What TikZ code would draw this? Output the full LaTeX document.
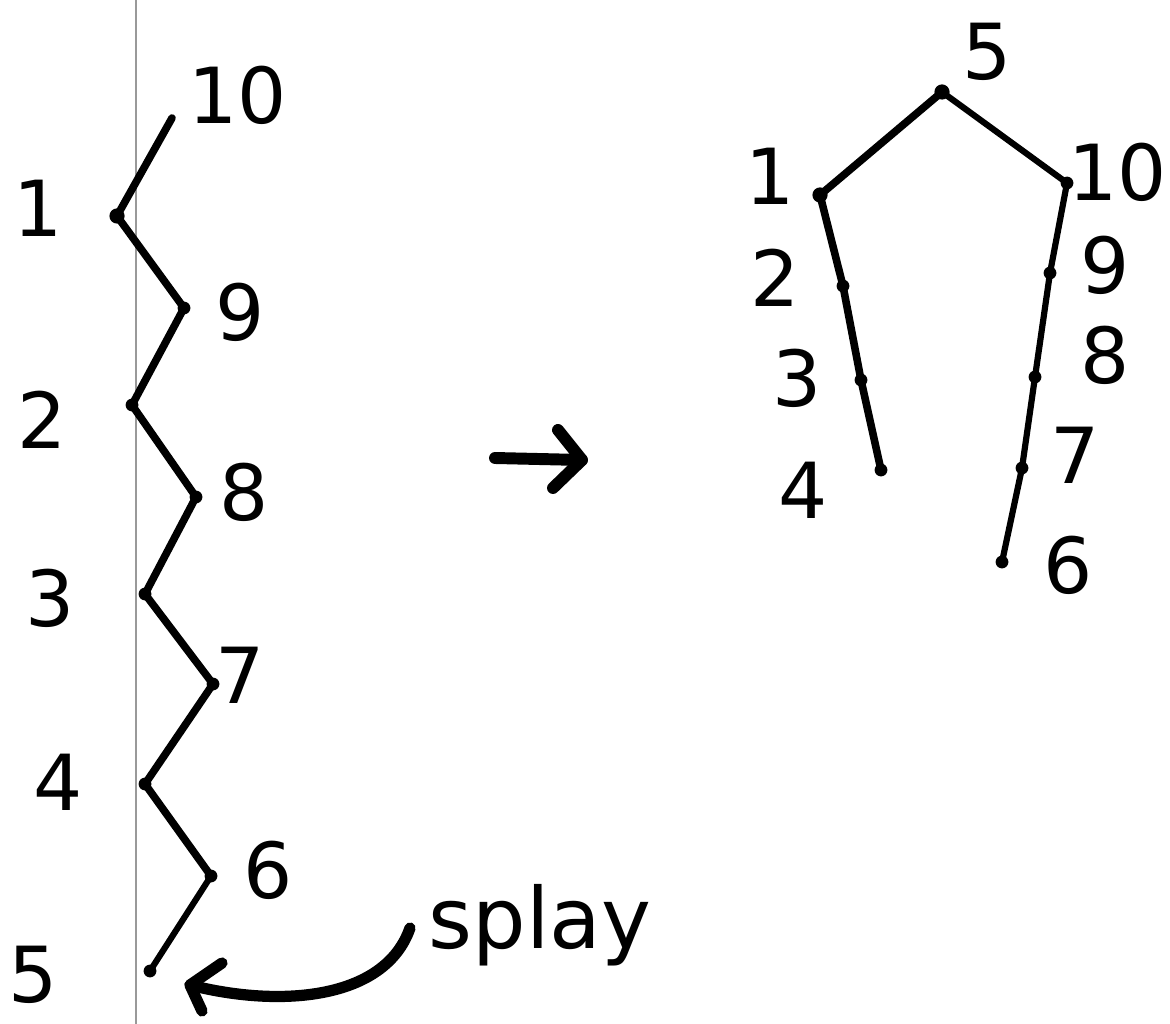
\documentclass[tikz,border=0pt]{standalone}
\usepackage{fontspec}
\setmainfont{DejaVu Sans}
\begin{document}
\begin{tikzpicture}[x=0.025cm,y=-0.025cm,
  line cap=round, line join=round,
  chain/.style={line width=5.4pt},
  thinchain/.style={line width=4.4pt},
  dot/.style={circle,fill=black,inner sep=0pt,minimum size=0.38cm},
  sdot/.style={circle,fill=black,inner sep=0pt,minimum size=0.32cm},
  lab/.style={font=\fontsize{55}{57}\selectfont,inner sep=0pt},
  arr/.style={line width=7pt}]
\useasboundingbox (0,0) rectangle (1170,1024);
\fill[white] (0,0) rectangle (1170,1024);
% margin line
\coordinate (mtop) at (136,0);
\coordinate (mbot) at (136,1024);
\draw[gray!80,line width=0.9pt] (mtop) -- (mbot);

% ---- left zigzag ----
\coordinate (a10) at (172,118);
\node[dot] (a1) at (117,216) {};
\node[sdot] (a9) at (184,308) {};
\node[sdot] (a2) at (132,405) {};
\node[sdot] (a8) at (196,497) {};
\node[sdot] (a3) at (145,594) {};
\node[sdot] (a7) at (213,684) {};
\node[sdot] (a4) at (145,784) {};
\node[sdot] (a6) at (211,876) {};
\node[sdot] (a5) at (150,971) {};
\draw[chain] (a10) -- (a1.center) -- (a9.center) -- (a2.center) -- (a8.center) -- (a3.center)
  -- (a7.center) -- (a4.center) -- (a6.center);
\draw[thinchain] (a6.center) -- (a5.center);

\node[lab] (la10) at (238,95) {10};
\node[lab] (la1) at (38,208) {1};
\node[lab] (la9) at (240,312) {9};
\node[lab] (la2) at (42,420) {2};
\node[lab] (la8) at (244,492) {8};
\node[lab] (la3) at (50,598) {3};
\node[lab] (la7) at (240,675) {7};
\node[lab] (la4) at (58,782) {4};
\node[lab] (la6) at (268,870) {6};
\node[lab] (la5) at (33,975) {5};

% ---- splay arrow ----
\node[font=\fontsize{60}{62}\selectfont,inner sep=0pt] (splay) at (540,925) {splay};
\coordinate (sp0) at (410,928);
\coordinate (sptip) at (190,985);
\coordinate (spb1) at (222,963);
\coordinate (spb2) at (202,1011);
\draw[arr,line width=8pt] (sp0) .. controls (385,1000) and (280,1008) .. (sptip);
\draw[arr,line width=8pt] (spb1) -- (sptip) -- (spb2);

% ---- middle arrow ----
\coordinate (m0) at (495,458);
\coordinate (m1) at (582,460);
\coordinate (mb1) at (558,430);
\coordinate (mb2) at (553,488);
\draw[arr,line width=8.5pt] (m0) -- (m1);
\draw[arr,line width=8.5pt] (mb1) -- (m1) -- (mb2);

% ---- right tree ----
\node[dot] (b5) at (942,92) {};
\node[dot] (b1) at (820,195) {};
\node[sdot] (b10) at (1067,183) {};
\node[sdot] (b2) at (843,286) {};
\node[sdot] (b3) at (861,380) {};
\node[sdot] (b4) at (881,470) {};
\node[sdot] (b9) at (1050,273) {};
\node[sdot] (b8) at (1035,377) {};
\node[sdot] (b7) at (1022,468) {};
\node[sdot] (b6) at (1002,562) {};
\draw[chain] (b4.center) -- (b3.center) -- (b2.center) -- (b1.center) -- (b5.center);
\draw[thinchain] (b5.center) -- (b10.center) -- (b9.center) -- (b8.center) -- (b7.center) -- (b6.center);

\node[lab] (lb5) at (987,52) {5};
\node[lab] (lb1) at (770,176) {1};
\node[lab] (lb10) at (1118,172) {10};
\node[lab] (lb2) at (775,278) {2};
\node[lab] (lb9) at (1105,265) {9};
\node[lab] (lb3) at (797,378) {3};
\node[lab] (lb8) at (1105,355) {8};
\node[lab] (lb4) at (803,490) {4};
\node[lab] (lb7) at (1075,455) {7};
\node[lab] (lb6) at (1068,565) {6};
\end{tikzpicture}
\end{document}
